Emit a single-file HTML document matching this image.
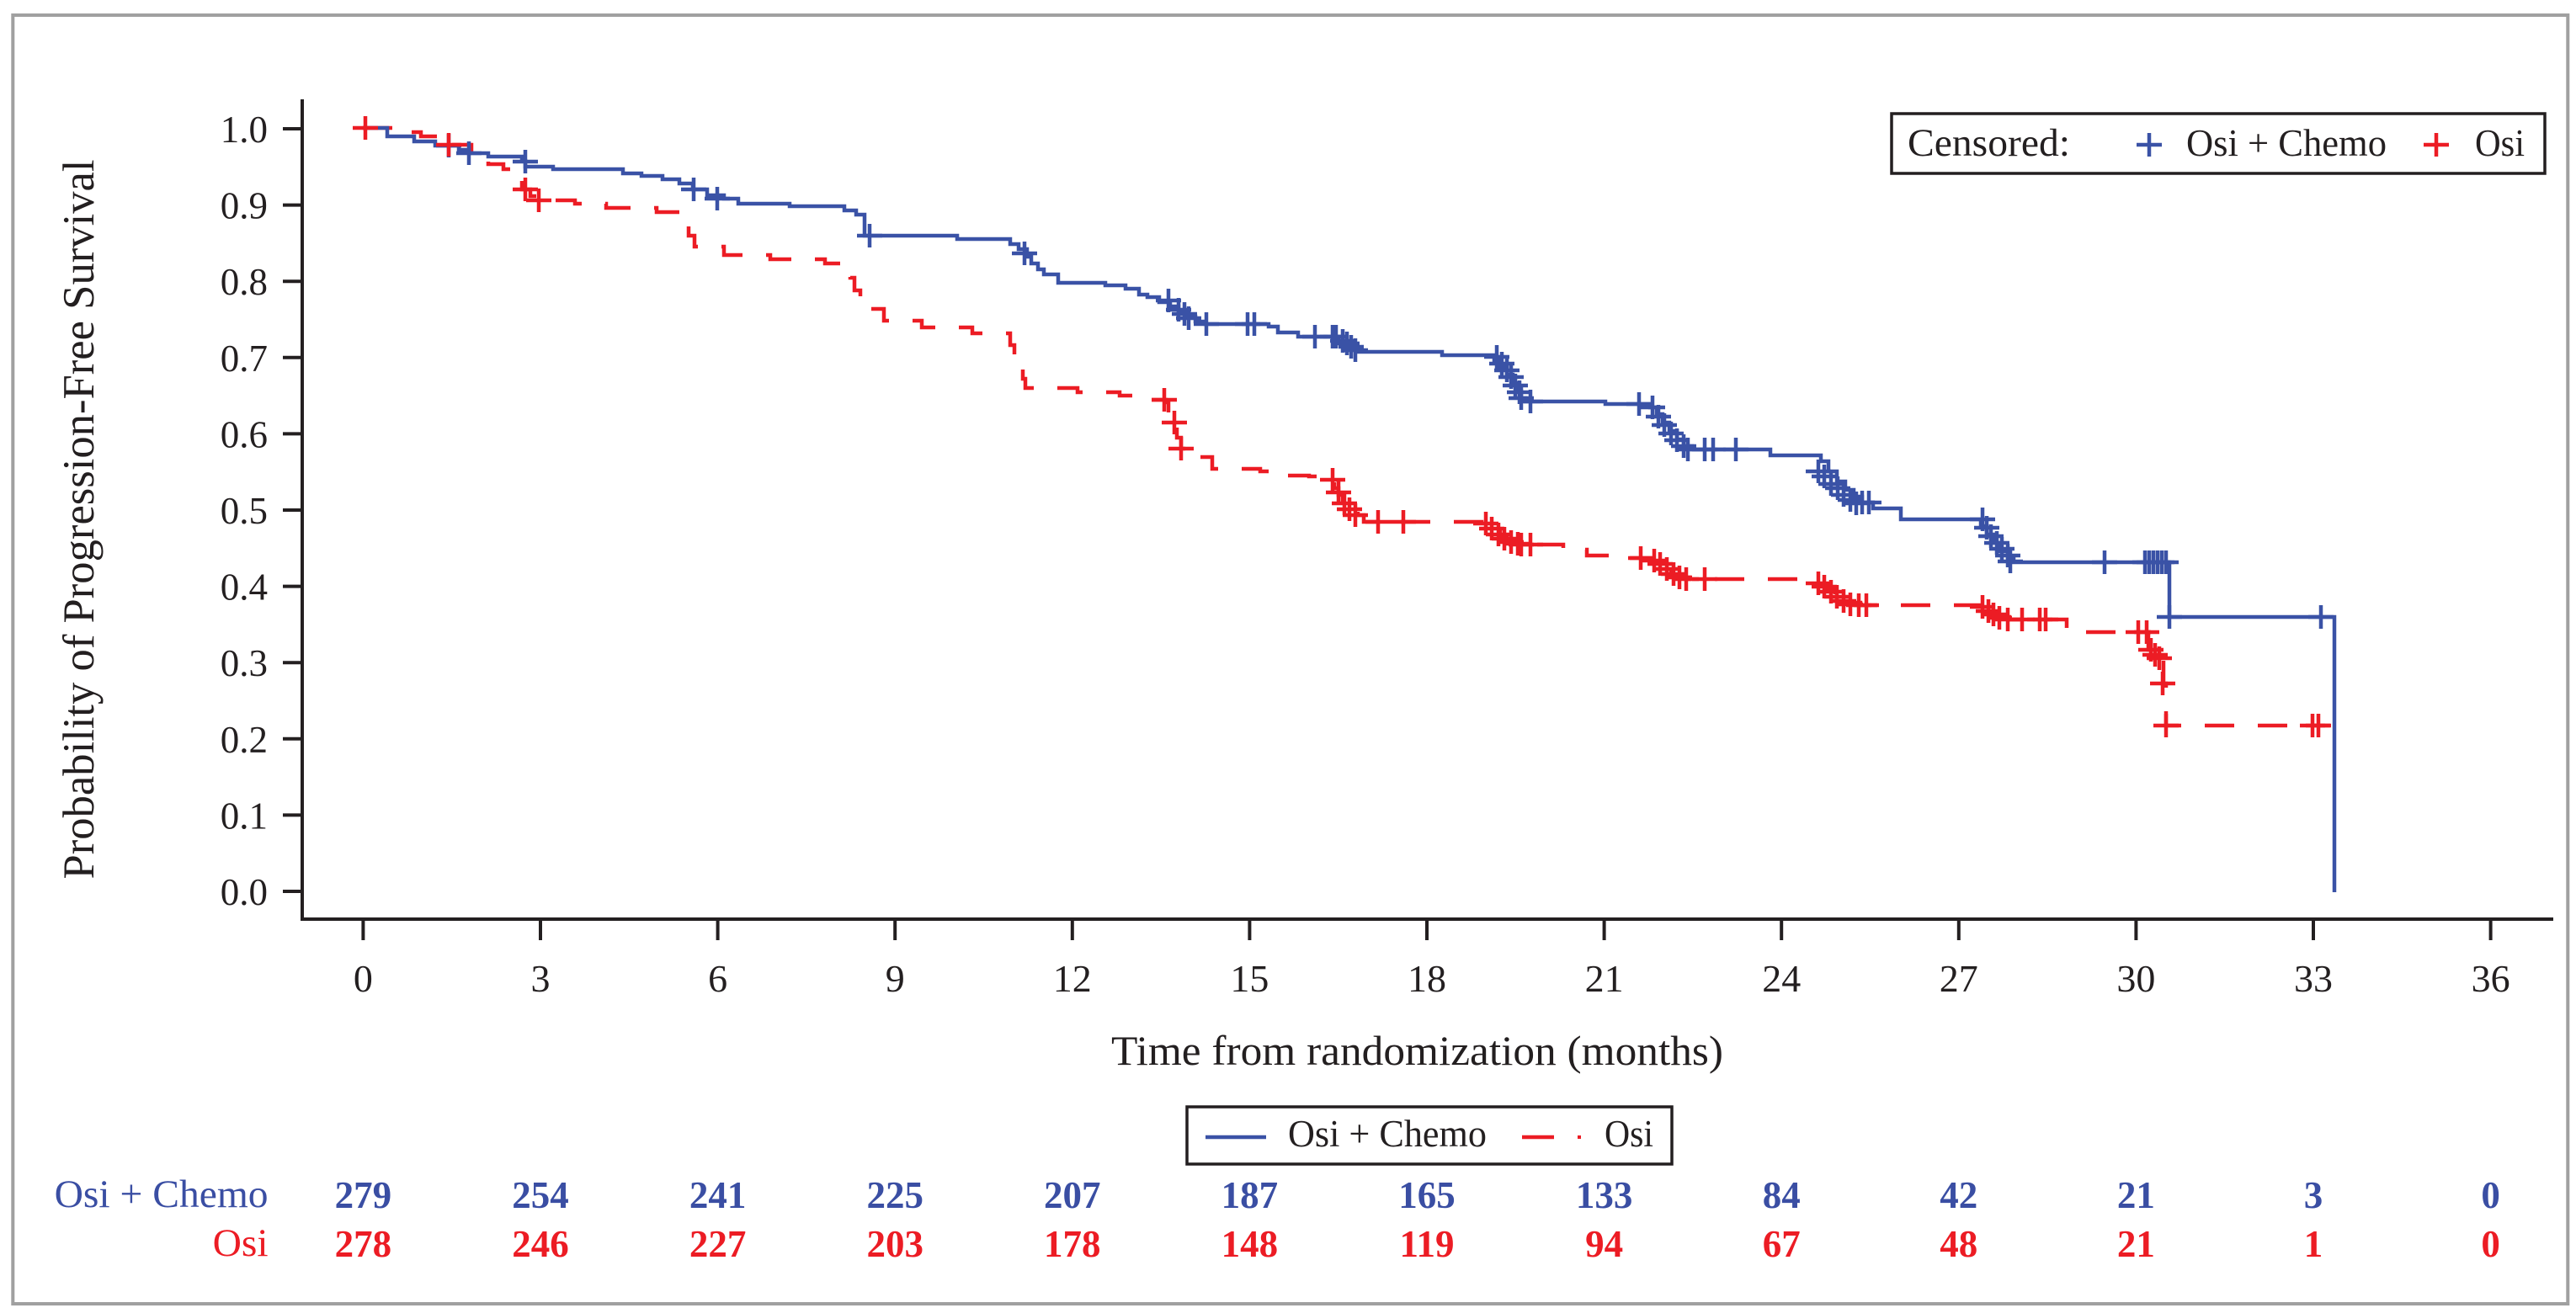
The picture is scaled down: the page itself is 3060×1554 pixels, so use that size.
<!DOCTYPE html>
<html>
<head>
<meta charset="utf-8">
<style>
html,body{margin:0;padding:0;background:#fff;}
body{width:3060px;height:1554px;overflow:hidden;}
svg{display:block;}
text{font-family:"Liberation Serif","DejaVu Serif",serif;}
</style>
</head>
<body>
<svg width="3060" height="1554" viewBox="0 0 3060 1554" xmlns="http://www.w3.org/2000/svg">
<defs>
  <path id="cb" d="M-15 0H15M0 -14V14" stroke="#3a52a6" stroke-width="4.5" fill="none"/>
  <path id="cr" d="M-15 0H15M0 -14V14" stroke="#ec1c24" stroke-width="4.5" fill="none"/>
</defs>
<rect x="0" y="0" width="3060" height="1554" fill="#fff"/>
<!-- outer frame -->
<rect x="15.3" y="18" width="3035" height="1531" fill="none" stroke="#a0a0a0" stroke-width="4"/>

<!-- axes -->
<g stroke="#231f20" stroke-width="4" fill="none">
  <line x1="359" y1="118" x2="359" y2="1094"/>
  <line x1="357" y1="1092" x2="3033" y2="1092"/>
  <line x1="336" y1="1059" x2="359" y2="1059"/>
  <line x1="336" y1="968.4" x2="359" y2="968.4"/>
  <line x1="336" y1="877.8" x2="359" y2="877.8"/>
  <line x1="336" y1="787.2" x2="359" y2="787.2"/>
  <line x1="336" y1="696.6" x2="359" y2="696.6"/>
  <line x1="336" y1="606" x2="359" y2="606"/>
  <line x1="336" y1="515.4" x2="359" y2="515.4"/>
  <line x1="336" y1="424.8" x2="359" y2="424.8"/>
  <line x1="336" y1="334.2" x2="359" y2="334.2"/>
  <line x1="336" y1="243.6" x2="359" y2="243.6"/>
  <line x1="336" y1="153" x2="359" y2="153"/>
  <line x1="431.4" y1="1092" x2="431.4" y2="1117"/>
  <line x1="642" y1="1092" x2="642" y2="1117"/>
  <line x1="852.6" y1="1092" x2="852.6" y2="1117"/>
  <line x1="1063.2" y1="1092" x2="1063.2" y2="1117"/>
  <line x1="1273.8" y1="1092" x2="1273.8" y2="1117"/>
  <line x1="1484.4" y1="1092" x2="1484.4" y2="1117"/>
  <line x1="1695" y1="1092" x2="1695" y2="1117"/>
  <line x1="1905.6" y1="1092" x2="1905.6" y2="1117"/>
  <line x1="2116.2" y1="1092" x2="2116.2" y2="1117"/>
  <line x1="2326.8" y1="1092" x2="2326.8" y2="1117"/>
  <line x1="2537.4" y1="1092" x2="2537.4" y2="1117"/>
  <line x1="2748" y1="1092" x2="2748" y2="1117"/>
  <line x1="2958.6" y1="1092" x2="2958.6" y2="1117"/>
</g>

<!-- y tick labels -->
<g font-size="45" fill="#231f20" text-anchor="end">
  <text x="318" y="1075">0.0</text>
  <text x="318" y="984.4">0.1</text>
  <text x="318" y="893.8">0.2</text>
  <text x="318" y="803.2">0.3</text>
  <text x="318" y="712.6">0.4</text>
  <text x="318" y="622">0.5</text>
  <text x="318" y="531.4">0.6</text>
  <text x="318" y="440.8">0.7</text>
  <text x="318" y="350.2">0.8</text>
  <text x="318" y="259.6">0.9</text>
  <text x="318" y="169">1.0</text>
</g>

<!-- x tick labels -->
<g font-size="46" fill="#231f20" text-anchor="middle">
  <text x="431.4" y="1178">0</text>
  <text x="642" y="1178">3</text>
  <text x="852.6" y="1178">6</text>
  <text x="1063.2" y="1178">9</text>
  <text x="1273.8" y="1178">12</text>
  <text x="1484.4" y="1178">15</text>
  <text x="1695" y="1178">18</text>
  <text x="1905.6" y="1178">21</text>
  <text x="2116.2" y="1178">24</text>
  <text x="2326.8" y="1178">27</text>
  <text x="2537.4" y="1178">30</text>
  <text x="2748" y="1178">33</text>
  <text x="2958.6" y="1178">36</text>
</g>

<!-- axis titles -->
<text x="1320" y="1265" font-size="50" fill="#231f20" textLength="727" lengthAdjust="spacingAndGlyphs">Time from randomization (months)</text>
<text transform="translate(111,617) rotate(-90)" x="0" y="0" font-size="53" fill="#231f20" text-anchor="middle" textLength="855" lengthAdjust="spacingAndGlyphs">Probability of Progression-Free Survival</text>

<!-- curves -->
<path fill="none" stroke="#ec1c24" stroke-width="4.5" stroke-dasharray="35 28" d="M431 152 H470 V157 H500 V162 H531 V172 H560 V184 H580 V195 H598 V201 H620 V225 H630 V233 H645 V238 H683 V242 H720 V247 H780 V252 H813 V265 H818 V280 H825 V293 H860 V303 H915 V308 H980 V313 H1005 V317 H1010 V330 H1015 V345 H1022 V360 H1025 V367 H1050 V381 H1095 V389 H1155 V396 H1200 V410 H1205 V425 H1208 V433 H1215 V450 H1218 V461 H1280 V466 H1330 V470 H1360 V475 H1385 V478 H1388 V492 H1393 V502 H1398 V520 H1403 V533 H1408 V543 H1440 V557 H1497 V560 H1510 V565 H1555 V566 H1580 V572 H1585 V580 H1590 V588 H1595 V596 H1600 V603 H1607 V608 H1613 V612 H1620 V620 H1760 V624 H1768 V628 H1775 V632 H1782 V637 H1790 V641 H1800 V645 H1807 V647 H1857 V653 H1885 V660 H1933 V663 H1960 V668 H1967 V672 H1975 V678 H1985 V683 H1995 V686 H2007 V688 H2160 V695 H2170 V700 H2180 V706 H2190 V711 H2200 V716 H2210 V719 H2353 V724 H2362 V729 H2372 V733 H2387 V736 H2455 V751 H2552 V772 H2560 V780 H2568 V785 H2570 V812 H2573 V862 H2768"/>
<path fill="none" stroke="#3a52a6" stroke-width="4.5" d="M431 152 H460 V162 H492 V168 H517 V173 H545 V178 H557 V182 H580 V186 H620 V191 H624 V198 H657 V201 H740 V206 H762 V209 H787 V213 H807 V218 H823 V225 H840 V232 H860 V236 H877 V242 H938 V245 H1003 V250 H1017 V255 H1027 V280 H1137 V284 H1200 V290 H1210 V296 H1220 V305 H1225 V313 H1233 V320 H1240 V326 H1257 V336 H1313 V339 H1337 V343 H1353 V350 H1363 V353 H1377 V359 H1390 V364 H1400 V370 H1410 V376 H1420 V382 H1432 V385 H1507 V388 H1518 V395 H1542 V400 H1590 V405 H1595 V410 H1605 V416 H1613 V418 H1713 V422 H1775 V428 H1782 V436 H1790 V445 H1797 V455 H1803 V465 H1807 V473 H1812 V477 H1907 V480 H1960 V484 H1968 V492 H1975 V502 H1983 V512 H1992 V522 H2000 V530 H2010 V534 H2103 V541 H2163 V548 H2172 V560 H2182 V572 H2192 V582 H2202 V590 H2212 V597 H2225 V604 H2258 V617 H2353 V625 H2360 V635 H2368 V645 H2376 V655 H2385 V663 H2392 V668 H2577 V733 H2773 V1060"/>

<!-- blue censor marks -->
<g>
<use href="#cb" x="533" y="173"/><use href="#cb" x="557" y="182"/><use href="#cb" x="624" y="192"/>
<use href="#cb" x="824" y="225"/><use href="#cb" x="852" y="236"/><use href="#cb" x="1033" y="280"/>
<use href="#cb" x="1217" y="301"/><use href="#cb" x="1388" y="357"/><use href="#cb" x="1400" y="368"/>
<use href="#cb" x="1407" y="373"/><use href="#cb" x="1412" y="378"/><use href="#cb" x="1433" y="385"/>
<use href="#cb" x="1482" y="385"/><use href="#cb" x="1490" y="385"/><use href="#cb" x="1562" y="400"/>
<use href="#cb" x="1583" y="400"/><use href="#cb" x="1587" y="400"/><use href="#cb" x="1595" y="405"/>
<use href="#cb" x="1600" y="408"/><use href="#cb" x="1605" y="412"/><use href="#cb" x="1610" y="416"/>
<use href="#cb" x="1778" y="424"/><use href="#cb" x="1784" y="432"/><use href="#cb" x="1790" y="440"/>
<use href="#cb" x="1795" y="448"/><use href="#cb" x="1800" y="458"/><use href="#cb" x="1805" y="466"/>
<use href="#cb" x="1807" y="473"/><use href="#cb" x="1818" y="477"/><use href="#cb" x="1947" y="480"/>
<use href="#cb" x="1963" y="484"/><use href="#cb" x="1970" y="495"/><use href="#cb" x="1977" y="505"/>
<use href="#cb" x="1985" y="515"/><use href="#cb" x="1992" y="523"/><use href="#cb" x="2000" y="530"/>
<use href="#cb" x="2005" y="534"/><use href="#cb" x="2025" y="534"/><use href="#cb" x="2035" y="534"/>
<use href="#cb" x="2062" y="534"/><use href="#cb" x="2160" y="560"/><use href="#cb" x="2167" y="566"/>
<use href="#cb" x="2175" y="575"/><use href="#cb" x="2183" y="580"/><use href="#cb" x="2190" y="588"/>
<use href="#cb" x="2198" y="594"/><use href="#cb" x="2205" y="598"/><use href="#cb" x="2212" y="597"/>
<use href="#cb" x="2220" y="597"/><use href="#cb" x="2355" y="617"/><use href="#cb" x="2360" y="627"/>
<use href="#cb" x="2365" y="637"/><use href="#cb" x="2372" y="645"/><use href="#cb" x="2378" y="652"/>
<use href="#cb" x="2385" y="660"/><use href="#cb" x="2388" y="667"/><use href="#cb" x="2500" y="668"/>
<use href="#cb" x="2548" y="668"/><use href="#cb" x="2553" y="668"/><use href="#cb" x="2558" y="668"/>
<use href="#cb" x="2563" y="668"/><use href="#cb" x="2568" y="668"/><use href="#cb" x="2573" y="668"/>
<use href="#cb" x="2577" y="733"/><use href="#cb" x="2757" y="733"/>
</g>

<!-- red censor marks -->
<g>
<use href="#cr" x="434" y="152"/><use href="#cr" x="533" y="172"/><use href="#cr" x="624" y="225"/>
<use href="#cr" x="640" y="238"/><use href="#cr" x="1383" y="475"/><use href="#cr" x="1395" y="502"/>
<use href="#cr" x="1403" y="533"/><use href="#cr" x="1583" y="570"/><use href="#cr" x="1590" y="585"/>
<use href="#cr" x="1597" y="598"/><use href="#cr" x="1603" y="605"/><use href="#cr" x="1610" y="612"/>
<use href="#cr" x="1637" y="620"/><use href="#cr" x="1667" y="620"/><use href="#cr" x="1765" y="622"/>
<use href="#cr" x="1772" y="628"/><use href="#cr" x="1780" y="635"/><use href="#cr" x="1787" y="640"/>
<use href="#cr" x="1795" y="644"/><use href="#cr" x="1803" y="646"/><use href="#cr" x="1807" y="647"/>
<use href="#cr" x="1818" y="647"/><use href="#cr" x="1949" y="663"/><use href="#cr" x="1965" y="666"/>
<use href="#cr" x="1972" y="670"/><use href="#cr" x="1980" y="676"/><use href="#cr" x="1988" y="682"/>
<use href="#cr" x="1995" y="686"/><use href="#cr" x="2003" y="688"/><use href="#cr" x="2025" y="688"/>
<use href="#cr" x="2160" y="693"/><use href="#cr" x="2167" y="697"/><use href="#cr" x="2175" y="703"/>
<use href="#cr" x="2182" y="709"/><use href="#cr" x="2190" y="714"/><use href="#cr" x="2198" y="718"/>
<use href="#cr" x="2208" y="719"/><use href="#cr" x="2217" y="719"/><use href="#cr" x="2355" y="721"/>
<use href="#cr" x="2362" y="726"/><use href="#cr" x="2368" y="730"/><use href="#cr" x="2375" y="734"/>
<use href="#cr" x="2385" y="736"/><use href="#cr" x="2402" y="736"/><use href="#cr" x="2423" y="736"/>
<use href="#cr" x="2430" y="736"/><use href="#cr" x="2540" y="751"/><use href="#cr" x="2550" y="751"/>
<use href="#cr" x="2555" y="772"/><use href="#cr" x="2560" y="778"/><use href="#cr" x="2565" y="782"/>
<use href="#cr" x="2569" y="812"/><use href="#cr" x="2573" y="862"/><use href="#cr" x="2747" y="862"/>
<use href="#cr" x="2754" y="862"/>
</g>

<!-- censored legend (top right) -->
<rect x="2247" y="135" width="776" height="71" fill="#fff" stroke="#231f20" stroke-width="3.5"/>
<text x="2266" y="185" font-size="47" fill="#231f20" textLength="193" lengthAdjust="spacingAndGlyphs">Censored:</text>
<use href="#cb" x="2553" y="172"/>
<text x="2597" y="185" font-size="46" fill="#231f20" textLength="238" lengthAdjust="spacingAndGlyphs">Osi + Chemo</text>
<use href="#cr" x="2894" y="172"/>
<text x="2940" y="185" font-size="46" fill="#231f20" textLength="59" lengthAdjust="spacingAndGlyphs">Osi</text>

<!-- line legend (bottom) -->
<rect x="1410" y="1315" width="576" height="68" fill="#fff" stroke="#231f20" stroke-width="3.5"/>
<line x1="1432" y1="1351" x2="1504" y2="1351" stroke="#3a52a6" stroke-width="4.5"/>
<text x="1530" y="1362" font-size="45" fill="#231f20" textLength="236" lengthAdjust="spacingAndGlyphs">Osi + Chemo</text>
<line x1="1808" y1="1351" x2="1846" y2="1351" stroke="#ec1c24" stroke-width="4.5"/>
<line x1="1874" y1="1351" x2="1878" y2="1351" stroke="#ec1c24" stroke-width="4"/>
<text x="1906" y="1362" font-size="45" fill="#231f20" textLength="58" lengthAdjust="spacingAndGlyphs">Osi</text>

<!-- at-risk table -->
<text x="318.6" y="1434" font-size="47" fill="#3a4ea3" text-anchor="end" textLength="254" lengthAdjust="spacingAndGlyphs">Osi + Chemo</text>
<text x="318.6" y="1492" font-size="47" fill="#ec1c24" text-anchor="end" textLength="66" lengthAdjust="spacingAndGlyphs">Osi</text>
<g font-size="45" font-weight="bold" fill="#3a4ea3" text-anchor="middle">
  <text x="431.4" y="1435">279</text>
  <text x="642" y="1435">254</text>
  <text x="852.6" y="1435">241</text>
  <text x="1063.2" y="1435">225</text>
  <text x="1273.8" y="1435">207</text>
  <text x="1484.4" y="1435">187</text>
  <text x="1695" y="1435">165</text>
  <text x="1905.6" y="1435">133</text>
  <text x="2116.2" y="1435">84</text>
  <text x="2326.8" y="1435">42</text>
  <text x="2537.4" y="1435">21</text>
  <text x="2748" y="1435">3</text>
  <text x="2958.6" y="1435">0</text>
</g>
<g font-size="45" font-weight="bold" fill="#ec1c24" text-anchor="middle">
  <text x="431.4" y="1493">278</text>
  <text x="642" y="1493">246</text>
  <text x="852.6" y="1493">227</text>
  <text x="1063.2" y="1493">203</text>
  <text x="1273.8" y="1493">178</text>
  <text x="1484.4" y="1493">148</text>
  <text x="1695" y="1493">119</text>
  <text x="1905.6" y="1493">94</text>
  <text x="2116.2" y="1493">67</text>
  <text x="2326.8" y="1493">48</text>
  <text x="2537.4" y="1493">21</text>
  <text x="2748" y="1493">1</text>
  <text x="2958.6" y="1493">0</text>
</g>
</svg>
</body>
</html>
